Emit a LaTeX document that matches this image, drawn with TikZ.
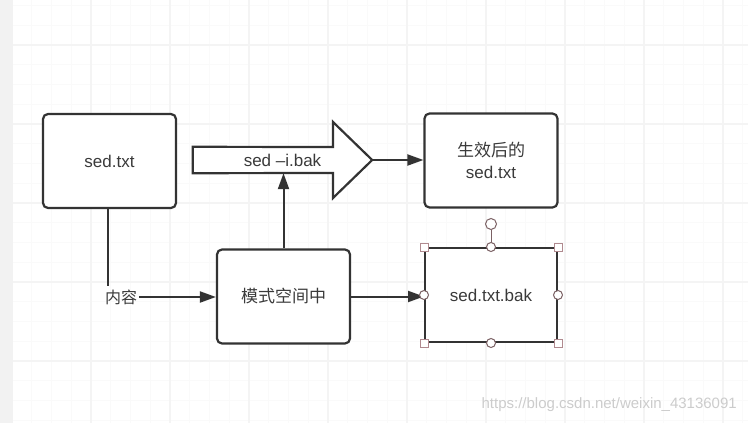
\documentclass[tikz,border=0pt]{standalone}
\usepackage{fontspec}
\setmainfont{Liberation Sans}
\newfontfamily\cjk{Noto Sans CJK SC}
\usetikzlibrary{arrows.meta}
\definecolor{ink}{HTML}{333333}
\definecolor{txt}{HTML}{3A3A3A}
\definecolor{handle}{HTML}{B08A8F}
\tikzset{
  boxr/.style={draw=ink, line width=2.2pt, rounded corners=5pt, fill=white,
    minimum width=133pt, minimum height=94pt, inner sep=0pt, text=txt,
    font=\fontsize{17}{22}\selectfont, align=center},
  plainbox/.style={draw=ink, line width=2pt, fill=white,
    minimum width=132pt, minimum height=94pt, inner sep=0pt, text=txt,
    font=\fontsize{17}{22}\selectfont, align=center},
  conn/.style={draw=ink, line width=2pt, -{Triangle[length=16pt,width=11pt]}},
  plainline/.style={draw=ink, line width=2pt},
  sqh/.style={draw=handle, fill=white, line width=1pt, minimum size=8pt, inner sep=0pt, rectangle},
  cih/.style={draw=handle!70!black, fill=white, line width=1pt, minimum size=9pt, inner sep=0pt, circle},
}
\begin{document}
\begin{tikzpicture}[x=1pt,y=-1pt]
\useasboundingbox (0,0) rectangle (748,423);
% background
\fill[white] (0,0) rectangle (748,423);
\foreach \i in {0,...,40} {
  \draw[gray!4, line width=0.8pt] ({12+19.75*\i},0) -- ({12+19.75*\i},423);
}
\foreach \j in {-2,...,22} {
  \draw[gray!4, line width=0.8pt] (13,{45+19.75*\j}) -- (748,{45+19.75*\j});
}
\foreach \i in {0,...,9} {
  \draw[gray!9, line width=1.2pt] ({12+79*\i},0) -- ({12+79*\i},423);
}
\foreach \j in {-1,...,5} {
  \draw[gray!9, line width=1.2pt] (13,{45+79*\j}) -- (748,{45+79*\j});
}
\fill[gray!10] (0,0) rectangle (13,423);

% nodes
\node[boxr] (src) at (109.5,161) {sed.txt};
\node[boxr] (res) at (491,160.5) {{\cjk 生效后的}\\sed.txt};
\node[boxr] (mode) at (283.5,296.5) {\cjk 模式空间中};
\node[plainbox] (bak) at (491,295) {sed.txt.bak};
\node[inner sep=2pt, text=txt, font=\cjk\fontsize{16}{20}\selectfont] (lab) at (121,297) {内容};

% block arrow
\node[minimum width=179pt, minimum height=26pt, inner sep=0pt] (cmd) at (282.5,160) {};
\draw[ink, line width=2.2pt, fill=white, line join=miter]
  (cmd.north west) -- (333,147) -- (333,122) -- (cmd.east) -- (333,198) -- (333,173) -- (cmd.south west) -- cycle;
\node[text=txt, font=\fontsize{17}{20}\selectfont] (cmdtext) at (cmd.center) {sed –i.bak};

% connectors
\draw[plainline] (src.south -| 108,0) -- (108,286);
\draw[conn] (lab.east) -- (lab.east -| mode.west);
\draw[conn] (mode.north) -- (mode.north |- cmd.south);
\draw[conn] (cmd.east) -- (cmd.east -| res.west);
\draw[conn] (mode.east) -- (mode.east -| bak.west);

% selection handles
\node[cih, minimum size=11pt] (rot) at (491,224) {};
\draw[handle!70!black, line width=1pt] (rot.south) -- (bak.north);
\node[sqh] at (bak.north west) {};
\node[sqh] at (bak.north east) {};
\node[sqh] at (bak.south west) {};
\node[sqh] at (bak.south east) {};
\node[cih] at (bak.north) {};
\node[cih] at (bak.south) {};
\node[cih] at (bak.west) {};
\node[cih] at (bak.east) {};

% watermark
\node[anchor=east, text=gray!40, font=\fontsize{15}{18}\selectfont, inner sep=0pt] (wm) at (737,405) {https://blog.csdn.net/weixin\_43136091};
\end{tikzpicture}
\end{document}
